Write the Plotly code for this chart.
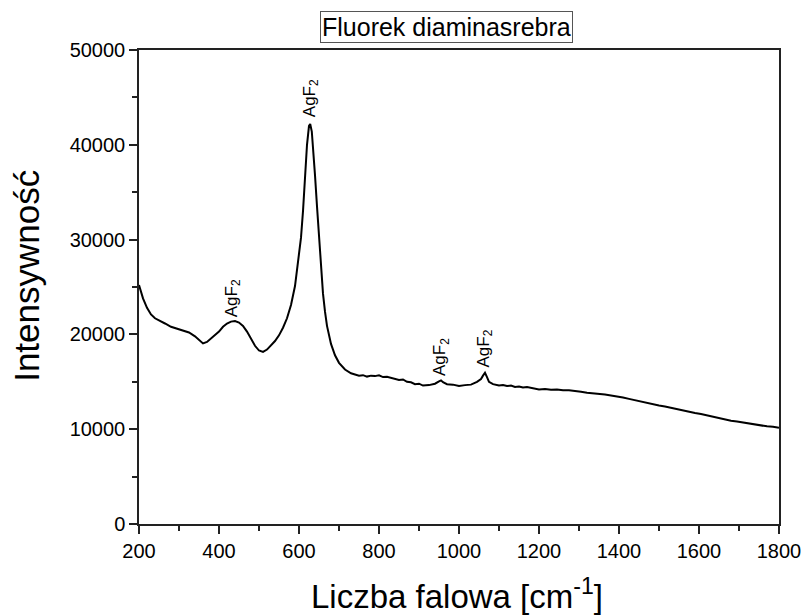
import plotly.graph_objects as go

# Raman spectrum of silver diammine fluoride
wavenumber = [200, 205, 210, 220, 230, 240, 250, 265, 280, 295, 310, 325, 340, 350, 360, 370, 380, 390,
              400, 410, 420, 430, 440, 450, 460, 470, 480, 490, 500, 510, 520, 530, 540, 550, 560, 570,
              580, 590, 600, 605, 610, 615, 620, 625, 628, 632, 636, 640, 645, 650, 655, 660, 665, 670,
              680, 690, 700, 715, 730, 740, 750, 760, 770, 780, 790, 800, 810, 820, 830, 840, 850, 860,
              870, 880, 890, 900, 910, 925, 940, 950, 955, 960, 970, 985, 1000, 1015, 1030, 1045, 1055,
              1060, 1065, 1070, 1075, 1085, 1100, 1110, 1120, 1130, 1140, 1150, 1160, 1170, 1180, 1190,
              1200, 1215, 1230, 1245, 1260, 1275, 1290, 1305, 1320, 1335, 1350, 1365, 1380, 1395, 1410,
              1425, 1440, 1455, 1470, 1485, 1500, 1515, 1530, 1545, 1560, 1575, 1590, 1605, 1620, 1635,
              1650, 1665, 1680, 1695, 1710, 1725, 1740, 1755, 1770, 1785, 1800]
intensity = [25200, 24500, 23800, 22800, 22100, 21700, 21500, 21150, 20800, 20600, 20350, 20200, 19800,
             19400, 19050, 19200, 19550, 19900, 20300, 20800, 21150, 21350, 21400, 21250, 20900, 20300,
             19600, 18800, 18300, 18150, 18400, 18850, 19300, 19900, 20700, 21700, 23100, 25100, 28200,
             30200, 33000, 36500, 40000, 42000, 42200, 41400, 39400, 36800, 33500, 30000, 26900, 24300,
             22400, 20900, 19000, 17800, 17000, 16300, 15900, 15800, 15650, 15700, 15550, 15650, 15600,
             15680, 15500, 15520, 15400, 15350, 15200, 15250, 15000, 14950, 14750, 14800, 14600, 14650,
             14800, 15050, 15150, 14950, 14750, 14700, 14550, 14650, 14700, 15000, 15300, 15650, 15950,
             15500, 15000, 14750, 14600, 14650, 14550, 14600, 14450, 14500, 14400, 14450, 14350, 14300,
             14200, 14250, 14150, 14180, 14100, 14120, 14000, 13950, 13850, 13800, 13700, 13650, 13550,
             13480, 13350, 13200, 13050, 12950, 12750, 12650, 12500, 12400, 12250, 12150, 11950, 11850,
             11700, 11600, 11450, 11300, 11150, 11050, 10900, 10820, 10700, 10600, 10500, 10380, 10300,
             10250, 10150]

# Band assignments: position and label baseline
band_x = [435, 630, 955, 1065]
band_y = [21600, 42700, 15400, 16300]
band_label = "AgF<sub>2</sub>"

FONT = "Liberation Sans, Arial, sans-serif"

fig = go.Figure()
fig.add_trace(go.Scatter(x=wavenumber, y=intensity, mode="lines",
                         line=dict(color="black", width=2), showlegend=False))

for bx, by in zip(band_x, band_y):
    fig.add_annotation(x=bx, y=by, xref="x", yref="y", text=band_label, textangle=-90,
                       showarrow=False, xanchor="center", yanchor="bottom",
                       font=dict(family=FONT, size=17, color="black"))

# Boxed title
fig.add_annotation(x=0.481, y=1.0485, xref="paper", yref="paper", text="Fluorek diaminasrebra",
                   showarrow=False, xanchor="center", yanchor="middle",
                   font=dict(family=FONT, size=25, color="black"),
                   bordercolor="#555", borderwidth=1, borderpad=1, bgcolor="white")

# Axis titles
fig.add_annotation(x=-0.177, y=0.523, xref="paper", yref="paper", text="Intensywność",
                   textangle=-90, showarrow=False, xanchor="center", yanchor="middle",
                   font=dict(family=FONT, size=35, color="black"))
fig.add_annotation(x=0.497, y=-0.148, xref="paper", yref="paper",
                   text="Liczba falowa [cm<sup>-1</sup>]", showarrow=False,
                   xanchor="center", yanchor="middle",
                   font=dict(family=FONT, size=33, color="black"))

axis_common = dict(showline=True, linecolor="#222", linewidth=1.5, mirror=True,
                   showgrid=False, zeroline=False, ticks="outside", ticklen=8, tickwidth=1.5,
                   tickcolor="#222", exponentformat="none", separatethousands=False,
                   automargin=False,
                   tickfont=dict(family=FONT, size=20, color="black"))

fig.update_xaxes(range=[200, 1800], tick0=200, dtick=200,
                 minor=dict(ticks="outside", ticklen=5, tickwidth=1.5, tickcolor="#222", dtick=100),
                 **axis_common)
fig.update_yaxes(range=[0, 50000], tick0=0, dtick=10000, tickformat="d",
                 minor=dict(ticks="outside", ticklen=5, tickwidth=1.5, tickcolor="#222", dtick=5000),
                 **axis_common)

fig.update_layout(width=804, height=615,
                  margin=dict(l=139, r=25, t=50, b=91, autoexpand=False),
                  plot_bgcolor="white", paper_bgcolor="white",
                  font=dict(family=FONT, color="black"))

fig.write_html("out.html")
